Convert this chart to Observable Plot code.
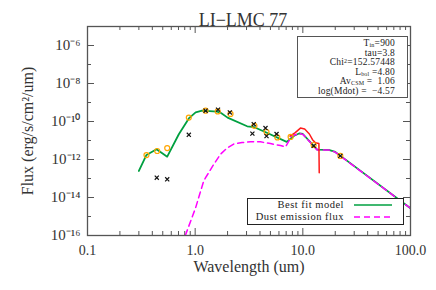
<!DOCTYPE html>
<html><head><meta charset="utf-8">
<script src="https://cdn.jsdelivr.net/npm/d3@7"></script>
<script src="https://cdn.jsdelivr.net/npm/@observablehq/plot@0.6"></script>
<style>
body{margin:0;background:#fff}
#wrap{position:relative;width:436px;height:290px;font-family:"Liberation Serif",serif;color:#222}
#wrap svg text{font-family:"Liberation Serif",serif}
.info{position:absolute;left:297px;top:36px;width:109px;height:58px;border:1.5px solid #555;background:#fff;font-size:9.5px;padding-top:2px;box-sizing:content-box}
.info div{height:9.6px;line-height:9.6px;text-align:right;padding-right:12px;white-space:nowrap;letter-spacing:0.2px}
.info sub{font-size:6px;vertical-align:-1px;line-height:0}
.info sup{font-size:6px;vertical-align:2px;line-height:0}
.legend{position:absolute;left:247px;top:198px;width:155px;height:25px;border:1px solid #222;background:#fff;font-size:10.5px}
.legend .row{display:flex;align-items:center;height:12px;line-height:12px}
.legend .lab{width:96px;text-align:right;white-space:nowrap;letter-spacing:0.5px}
.legend svg{margin-left:10px}
</style></head>
<body><div id="wrap"></div>
<script>
// ---- data ----
const title = "LI\u2212LMC 77";
const xLabel = "Wavelength (um)";
const yLabel = "Flux (erg/s/cm\u00b2/um)";
const xTicks = [0.1, 1, 10, 100];
const xTickLabels = ["0.1", "1.0", "10.0", "100.0"];
const yTicks = [1e-16, 1e-14, 1e-12, 1e-10, 1e-8, 1e-6];
const yTickLabels = ["10\u207b\u00b9\u2076", "10\u207b\u00b9\u2074", "10\u207b\u00b9\u00b2", "10\u207b\u00b9\u2070", "10\u207b\u2078", "10\u207b\u2076"];
const yMinorTicks = [1e-15, 1e-13, 1e-11, 1e-9, 1e-7];

// best fit model
const modelWave = [0.30, 0.353, 0.438, 0.55, 0.705, 0.873, 1.01, 1.16, 1.60, 1.74, 2.0, 3.04, 3.55, 4.47, 7.08, 8.3, 9.33, 10, 13.6, 17.4, 20, 22.4, 100];
const modelFlux = [2.5e-13, 1.74e-12, 3.47e-12, 1.41e-12, 2.14e-11, 1.45e-10, 3.0e-10, 3.7e-10, 3.3e-10, 2.8e-10, 1.6e-10, 5.6e-11, 5.0e-11, 2.8e-11, 8.5e-12, 1.78e-11, 2.4e-11, 2.2e-11, 3.3e-12, 3.2e-12, 2.5e-12, 1.55e-12, 2.7e-15];
// dust emission
const dustWave = [0.81, 1.01, 1.2, 1.25, 1.49, 1.72, 1.98, 2.28, 2.73, 3.26, 4.04, 5.0, 6.2, 6.9, 7.9, 9.33, 10, 13.6, 17.4, 20, 22.4, 100];
const dustFlux = [1.0e-16, 2.9e-15, 7.4e-14, 1.1e-13, 5.6e-13, 1.9e-12, 4.0e-12, 6.5e-12, 7.8e-12, 8.7e-12, 8.5e-12, 6.9e-12, 5.4e-12, 4.6e-12, 1.78e-11, 2.3e-11, 2.1e-11, 3.2e-12, 3.2e-12, 2.45e-12, 1.5e-12, 2.7e-15];
// IRS spectrum
const specWave = [7.6, 8.5, 9.5, 10.4, 11.5, 12.3, 13.1, 14.1, 14.2];
const specFlux = [1.7e-11, 2.6e-11, 4.5e-11, 4.0e-11, 2.2e-11, 1.1e-11, 7.6e-12, 6.9e-12, 2.0e-13];
// model photometry (orange circles)
const synWave = [0.353, 0.444, 0.55, 0.873, 1.25, 1.62, 2.13, 3.55, 4.6, 5.8, 7.7, 12.6, 22.3];
const synFlux = [1.7e-12, 2.8e-12, 4.0e-12, 1.6e-10, 3.7e-10, 3.4e-10, 2.5e-10, 5.9e-11, 2.8e-11, 1.45e-11, 1.55e-11, 5.8e-12, 1.55e-12];
// observed photometry (black x)
const obsWave = [0.44, 0.55, 0.873, 1.25, 1.63, 2.1, 3.5, 3.4, 4.5, 4.6, 5.7, 12.6, 22.3];
const obsFlux = [1.1e-13, 9.1e-14, 2.0e-11, 3.7e-10, 4.2e-10, 3.0e-10, 7.2e-11, 2.3e-11, 4.5e-11, 1.7e-11, 2.2e-11, 5.2e-12, 1.55e-12];

const info = [
  'T<sub>in</sub>=900', 'tau=3.8', 'Chi<sup>2</sup>=152.57448', 'L<sub>bol</sub> =4.80',
  'Av<sub>CSM</sub> =&nbsp; 1.06', 'log(Mdot) =&nbsp; \u22124.57'
];
const legendItems = [
  {label: "Best fit model", color: "#00a040", dash: null},
  {label: "Dust emission flux", color: "#ff00ff", dash: "6,4"}
];

// ---- build ----
const zip = (xs, ys) => xs.map((x, i) => ({x, y: ys[i]}));
const model = zip(modelWave, modelFlux);
const dust = zip(dustWave, dustFlux);
const spec = zip(specWave, specFlux);
const syn = zip(synWave, synFlux);
const obs = zip(obsWave, obsFlux);

const xMinor = [];
[0.1, 1, 10].forEach(b => { for (let k = 2; k <= 9; k++) xMinor.push(b * k); });

const W = 436, H = 290, mL = 87, mR = 26, mT = 26, mB = 55;
const fw = W - mL - mR, fh = H - mT - mB;
const FF = "Liberation Serif, serif";

const chart = Plot.plot({
  width: W, height: H, marginLeft: mL, marginRight: mR, marginTop: mT, marginBottom: mB,
  x: {type: "log", domain: [0.1, 100]},
  y: {type: "log", domain: [1e-16, 1e-5]},
  style: {fontFamily: FF, fontSize: "14px", color: "#333", background: "white"},
  marks: [
    Plot.axisX(xTicks, {tickSize: 0, tickPadding: 10, tickFormat: d => xTickLabels[xTicks.indexOf(d)], label: null, fontSize: 14, fill: "#333"}),
    Plot.axisY(yTicks, {tickSize: 0, tickPadding: 7, tickFormat: d => yTickLabels[yTicks.indexOf(d)], label: null, fontSize: 15, fill: "#333"}),
    // inward ticks
    Plot.tickX(xTicks, {x: d => d, insetTop: fh - 7, stroke: "#555"}),
    Plot.tickX(xMinor, {x: d => d, insetTop: fh - 4, stroke: "#555"}),
    Plot.tickX(xTicks, {x: d => d, insetBottom: fh - 7, stroke: "#555"}),
    Plot.tickX(xMinor, {x: d => d, insetBottom: fh - 4, stroke: "#555"}),
    Plot.tickY(yTicks, {y: d => d, insetRight: fw - 7, stroke: "#555"}),
    Plot.tickY(yMinorTicks, {y: d => d, insetRight: fw - 4, stroke: "#555"}),
    Plot.tickY(yTicks, {y: d => d, insetLeft: fw - 7, stroke: "#555"}),
    Plot.tickY(yMinorTicks, {y: d => d, insetLeft: fw - 4, stroke: "#555"}),
    Plot.line(model, {x: "x", y: "y", stroke: "#00a040", strokeWidth: 1.8, clip: true}),
    Plot.line(dust, {x: "x", y: "y", stroke: "#ff00ff", strokeWidth: 1.5, strokeDasharray: "6,4", clip: true}),
    Plot.line(spec, {x: "x", y: "y", stroke: "#ff1a1a", strokeWidth: 1.5, clip: true}),
    Plot.dot(syn, {x: "x", y: "y", r: 2.5, stroke: "#ffa500", strokeWidth: 1.2, fill: "none"}),
    Plot.dot(obs, {x: "x", y: "y", r: 2, symbol: "times", stroke: "#111", strokeWidth: 1.2}),
    Plot.frame({stroke: "#555", strokeWidth: 1.3}),
    Plot.text([xLabel], {text: d => d, frameAnchor: "bottom", dy: 36, fontSize: 16, fill: "#333", letterSpacing: "0.9px"}),
    Plot.text([yLabel], {text: d => d, frameAnchor: "left", textAnchor: "middle", rotate: -90, dx: -60, dy: 0, fontSize: 16, fill: "#333", letterSpacing: "0.6px"}),
    Plot.text([title], {text: d => d, frameAnchor: "top", dy: -13, dx: -6, fontSize: 18, fill: "#333", letterSpacing: "0.8px"})
  ]
});

const wrap = document.getElementById("wrap");
wrap.appendChild(chart);

const infoBox = document.createElement("div");
infoBox.className = "info";
infoBox.innerHTML = info.map(s => `<div>${s}</div>`).join("");
wrap.appendChild(infoBox);

const leg = document.createElement("div");
leg.className = "legend";
leg.innerHTML = legendItems.map(it =>
  `<div class="row"><span class="lab">${it.label}</span><svg width="38" height="4"><line x1="0" x2="38" y1="2" y2="2" stroke="${it.color}" stroke-width="1.5" ${it.dash ? `stroke-dasharray="${it.dash}"` : ""}/></svg></div>`
).join("");
wrap.appendChild(leg);
</script>
</body></html>
